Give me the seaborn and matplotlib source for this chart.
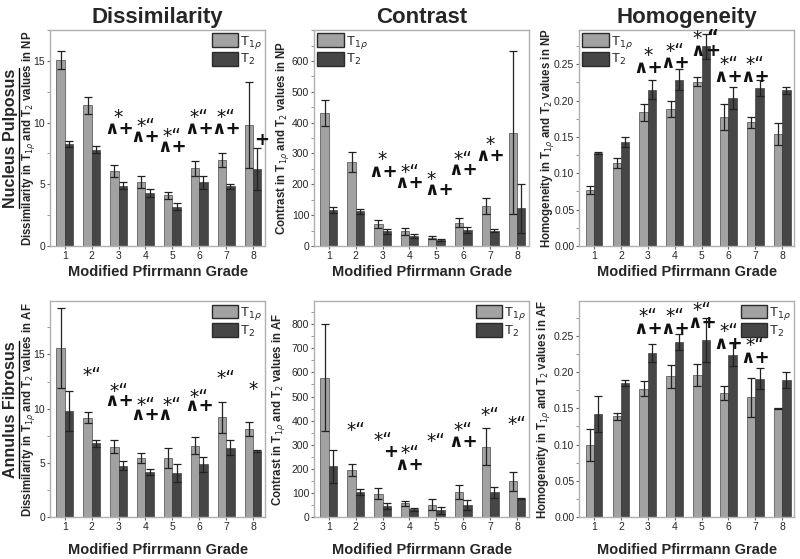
import numpy as np
import pandas as pd
import matplotlib
matplotlib.use("Agg")
import matplotlib.pyplot as plt
import seaborn as sns
from matplotlib.patches import Patch
from matplotlib.lines import Line2D
from matplotlib.ticker import FormatStrFormatter, AutoMinorLocator

grades = [1, 2, 3, 4, 5, 6, 7, 8]
seqs = ["T$_{1\\rho}$", "T$_2$"]

# Nucleus Pulposus
dis_np_t1 = [15.1, 11.4, 6.1, 5.2, 4.1, 6.3, 6.95, 9.8]
dis_np_t1_err = [0.75, 0.7, 0.5, 0.5, 0.3, 0.6, 0.55, 3.5]
dis_np_t2 = [8.3, 7.8, 4.9, 4.3, 3.2, 5.15, 4.85, 6.25]
dis_np_t2_err = [0.25, 0.3, 0.3, 0.35, 0.25, 0.5, 0.2, 1.7]

con_np_t1 = [430, 272, 72, 48, 27, 76, 130, 368]
con_np_t1_err = [42, 32, 13, 11, 5, 16, 25, 265]
con_np_t2 = [117, 112, 47, 33, 18, 52, 50, 122]
con_np_t2_err = [9, 8, 8, 7, 3, 11, 5, 80]

hom_np_t1 = [0.077, 0.114, 0.184, 0.189, 0.226, 0.177, 0.170, 0.154]
hom_np_t1_err = [0.005, 0.007, 0.012, 0.011, 0.006, 0.018, 0.008, 0.015]
hom_np_t2 = [0.128, 0.143, 0.215, 0.229, 0.275, 0.204, 0.217, 0.214]
hom_np_t2_err = [0.002, 0.007, 0.013, 0.015, 0.017, 0.015, 0.011, 0.005]

# Annulus Fibrosus
dis_af_t1 = [15.6, 9.15, 6.5, 5.45, 5.45, 6.6, 9.2, 8.15]
dis_af_t1_err = [3.7, 0.5, 0.6, 0.5, 0.95, 0.75, 1.45, 0.65]
dis_af_t2 = [9.8, 6.8, 4.75, 4.15, 4.05, 4.85, 6.4, 6.1]
dis_af_t2_err = [1.85, 0.35, 0.4, 0.25, 0.8, 0.65, 0.7, 0.1]

con_af_t1 = [578, 195, 97, 58, 52, 105, 292, 148]
con_af_t1_err = [222, 25, 22, 10, 22, 30, 78, 40]
con_af_t2 = [210, 103, 45, 32, 28, 50, 103, 77]
con_af_t2_err = [70, 13, 13, 5, 14, 20, 22, 3]

hom_af_t1 = [0.100, 0.139, 0.177, 0.194, 0.196, 0.171, 0.165, 0.150]
hom_af_t1_err = [0.022, 0.005, 0.010, 0.016, 0.015, 0.010, 0.027, 0.001]
hom_af_t2 = [0.142, 0.185, 0.226, 0.242, 0.244, 0.224, 0.191, 0.189]
hom_af_t2_err = [0.025, 0.004, 0.012, 0.011, 0.030, 0.016, 0.015, 0.011]

# significance marks: (grade, text, y)
Q = "\u201c"
ann_dis_np = [(3, "*", 10.4), (3, "^+", 9.5), (4, "*" + Q, 9.7), (4, "^+", 8.8),
              (5, "*" + Q, 8.9), (5, "^+", 8.0), (6, "*" + Q, 10.4), (6, "^+", 9.5),
              (7, "*" + Q, 10.4), (7, "^+", 9.5), (8.3, "+", 8.6)]
ann_con_np = [(3, "*", 280), (3, "^+", 240), (4, "*" + Q, 238), (4, "^+", 203),
              (4.8, "*", 215), (5.1, "^+", 183), (6, "*" + Q, 280), (6, "^+", 245),
              (7, "*", 330), (7, "^+", 292)]
ann_hom_np = [(3, "*", 0.262), (3, "^+", 0.245), (4, "*" + Q, 0.268), (4, "^+", 0.252),
              (4.85, "*", 0.285), (5.4, Q, 0.288), (4.85, "^", 0.268), (5.4, "+", 0.268),
              (6, "*" + Q, 0.25), (6, "^+", 0.233), (7, "*" + Q, 0.25), (7, "^+", 0.233)]
ann_dis_af = [(2, "*" + Q, 13.1), (3, "*" + Q, 11.6), (3, "^+", 10.7), (4, "*" + Q, 10.3),
              (4, "^+", 9.4), (5, "*" + Q, 10.3), (4.72, "^", 9.4), (6, "*" + Q, 11.0),
              (6, "^+", 10.2), (7, "*" + Q, 12.8), (8, "*", 11.8)]
ann_con_af = [(2, "*" + Q, 360), (3, "*" + Q, 318), (3.3, "+", 270), (4, "*" + Q, 262),
              (4, "^+", 218), (5, "*" + Q, 313), (6, "*" + Q, 360), (6, "^+", 313),
              (7, "*" + Q, 420), (8, "*" + Q, 385)]
ann_hom_af = [(3, "*" + Q, 0.276), (3, "^+", 0.259), (4, "*" + Q, 0.276), (4, "^+", 0.259),
              (5, "*" + Q, 0.285), (5, "^+", 0.268), (6, "*" + Q, 0.256), (6, "^+", 0.239),
              (7, "*" + Q, 0.236), (7, "^+", 0.219)]

panels = [
    ("Dissimilarity", "NP", dis_np_t1, dis_np_t1_err, dis_np_t2, dis_np_t2_err, 17.5, [0, 5, 10, 15], ann_dis_np, "upper right"),
    ("Contrast", "NP", con_np_t1, con_np_t1_err, con_np_t2, con_np_t2_err, 700, list(range(0, 700, 100)), ann_con_np, "upper left"),
    ("Homogeneity", "NP", hom_np_t1, hom_np_t1_err, hom_np_t2, hom_np_t2_err, 0.297, [0, 0.05, 0.10, 0.15, 0.20, 0.25], ann_hom_np, "upper left"),
    ("Dissimilarity", "AF", dis_af_t1, dis_af_t1_err, dis_af_t2, dis_af_t2_err, 19.9, [0, 5, 10, 15], ann_dis_af, "upper right"),
    ("Contrast", "AF", con_af_t1, con_af_t1_err, con_af_t2, con_af_t2_err, 895, list(range(0, 900, 100)), ann_con_af, "upper right"),
    ("Homogeneity", "AF", hom_af_t1, hom_af_t1_err, hom_af_t2, hom_af_t2_err, 0.2975, [0, 0.05, 0.10, 0.15, 0.20, 0.25], ann_hom_af, "upper right"),
]
ylabel_x = [-0.06, -0.108, -0.106, -0.06, -0.126, -0.126]

sns.set_style("white")
plt.rcParams['font.family'] = ['Liberation Sans', 'DejaVu Sans']
plt.rcParams['mathtext.fontset'] = 'dejavusans'

light = "#a2a2a2"
dark = "#464646"

fig = plt.figure(figsize=(8, 5.59), dpi=100)
lefts = [0.0625, 0.3925, 0.724]
bottoms = [0.56, 0.075]

for i, (name, region, t1, t1e, t2, t2e, ytop, yticks, ann, loc) in enumerate(panels):
    row, col = divmod(i, 3)
    ax = fig.add_axes([lefts[col], bottoms[row], 0.269, 0.386])

    df = pd.DataFrame({
        "grade": grades * 2,
        "seq": [seqs[0]] * 8 + [seqs[1]] * 8,
        "value": t1 + t2,
    })
    sns.barplot(data=df, x="grade", y="value", hue="seq", palette=[light, dark],
                errorbar=None, width=0.62, edgecolor="#2a2a2a", linewidth=0.4,
                saturation=1, legend=False, ax=ax)

    errs = t1e + t2e
    for p, v, e in zip(ax.patches[:16], t1 + t2, errs):
        xc = p.get_x() + p.get_width() / 2
        ax.errorbar(xc, v, yerr=e, fmt="none", ecolor="#222222", elinewidth=0.9,
                    capsize=3, capthick=0.9)

    ax.set_ylim(0, ytop)
    ax.set_xlim(-0.55, 7.45)
    ax.set_yticks(yticks)
    ax.yaxis.set_minor_locator(AutoMinorLocator(2))
    if name == "Homogeneity":
        ax.yaxis.set_major_formatter(FormatStrFormatter("%.2f"))
    ax.tick_params(axis="both", which="major", labelsize=7.5, length=2.5, width=0.8,
                   color="#666666", direction="out", pad=1)
    ax.tick_params(axis="y", which="minor", length=2, width=0.6, color="#888888", left=True)
    ax.tick_params(axis="x", bottom=True)
    ax.tick_params(axis="y", left=True)
    for s in ax.spines.values():
        s.set_color("#b0b0b0")
        s.set_linewidth(1.0)

    ax.set_xlabel("Modified Pfirrmann Grade", fontsize=10.5, fontweight="bold",
                  labelpad=3 if row == 0 else 8)
    ax.set_ylabel(name + " in T$_{1\\rho}$ and T$_2$ values in " + region,
                  fontsize=8.3, fontweight="bold")
    ax.yaxis.set_label_coords(ylabel_x[i], 0.5)
    if row == 0:
        ax.set_title(name, fontsize=16, fontweight="bold", pad=5)

    handles = [Patch(facecolor=light, edgecolor="#2a2a2a", linewidth=1.0),
               Patch(facecolor=dark, edgecolor="#2a2a2a", linewidth=1.0)]
    ax.legend(handles, seqs, loc=loc, frameon=False, fontsize=9.5, handlelength=2.0,
              handleheight=1.2, handletextpad=0.15, labelspacing=0.1,
              borderaxespad=0.15, borderpad=0.1)

    for gx, txt, gy in ann:
        bold = txt[0] != "*"
        ax.text(gx - 1, gy, txt.replace("^", "\u2227"), ha="center", va="center",
                fontsize=13 if bold else 13.5, fontweight="bold" if bold else "normal",
                family="DejaVu Sans", color="#111111")

# row labels, underlined
for label, yc in [("Nucleus Pulposus", 0.56 + 0.386 / 2), ("Annulus Fibrosus", 0.075 + 0.386 / 2)]:
    t = fig.text(0.0135, yc, label, rotation=90, ha="center", va="center",
                 fontsize=11.5, fontweight="bold")
    fig.canvas.draw()
    bb = t.get_window_extent().transformed(fig.transFigure.inverted())
    fig.add_artist(Line2D([bb.x1 + 0.001, bb.x1 + 0.001], [bb.y0, bb.y1],
                          transform=fig.transFigure, color="black", linewidth=1.0))

fig.savefig("out.png", dpi=100)
